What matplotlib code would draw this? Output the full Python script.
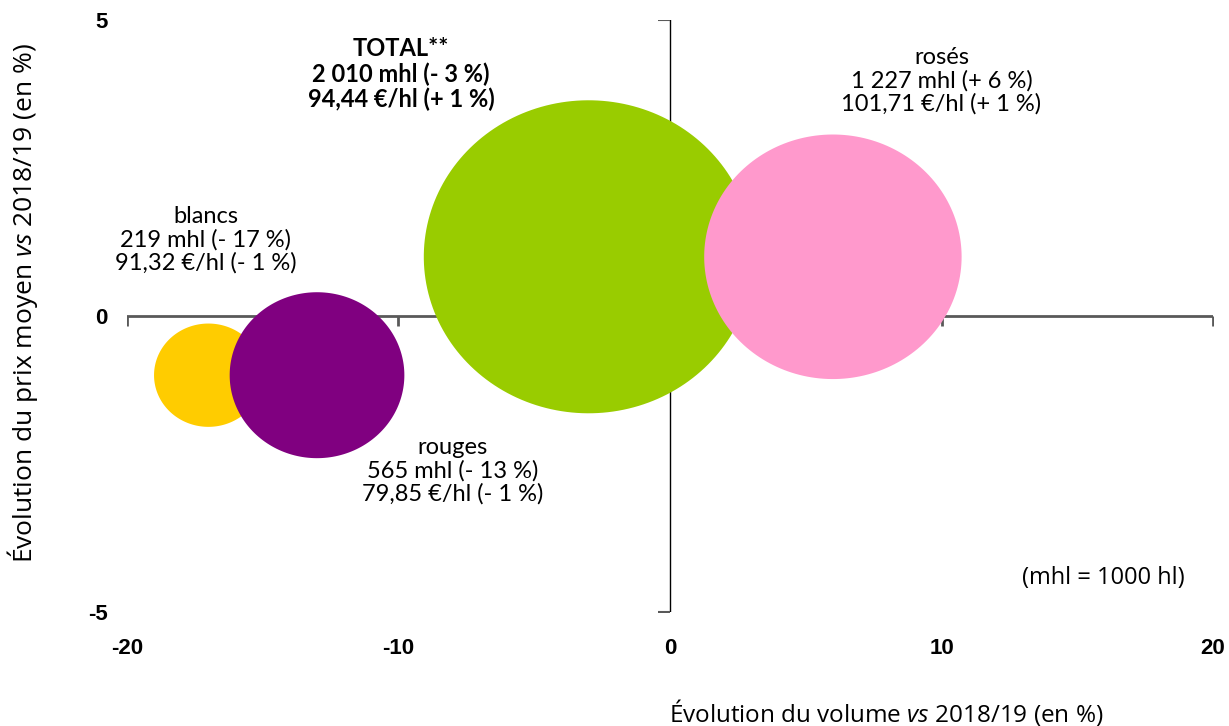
import matplotlib
matplotlib.use("Agg")
import matplotlib.pyplot as plt
import numpy as np
from matplotlib.path import Path

# data
categories = ["blancs", "rouges", "TOTAL**", "rosés"]
volume_change = [-17, -13, -3, 6]          # % vs 2018/19
price_change = [-1, -1, 1, 1]               # % vs 2018/19
volumes = [219, 565, 2010, 1227]            # mhl
colors = ["#FFCC00", "#800080", "#99CC00", "#FF99CC"]
labels = [
    "blancs\n219 mhl (- 17 %)\n91,32 €/hl (- 1 %)",
    "rouges\n565 mhl (- 13 %)\n79,85 €/hl (- 1 %)",
    "TOTAL**\n2 010 mhl (- 3 %)\n94,44 €/hl (+ 1 %)",
    "rosés\n1 227 mhl (+ 6 %)\n101,71 €/hl (+ 1 %)",
]
label_pos = [(-17.1, 1.28), (-8.0, -2.62), (-9.9, 4.08), (10.0, 3.97)]

x_ticks = [-20, -10, 0, 10, 20]
y_ticks = [-5, 0, 5]

plt.rcParams["mathtext.fontset"] = "custom"
plt.rcParams["mathtext.it"] = "Open Sans:italic"
plt.rcParams["mathtext.rm"] = "Open Sans"

# slightly flattened bubble marker (as in the original export)
t = np.linspace(0, 2 * np.pi, 200)
ellipse = Path(np.column_stack([np.cos(t), 0.95 * np.sin(t)]), closed=True)

fig = plt.figure(figsize=(12.29, 7.26), dpi=100)
ax = fig.add_axes([0.1033, 0.157, 0.8837, 0.8155])
ax.set_xlim(-20, 20)
ax.set_ylim(-5, 5)
for s in ax.spines.values():
    s.set_visible(False)

# axis lines crossing at 0
ax.plot([-20, 20], [0, 0], color="#595959", lw=2, zorder=1)
ax.plot([0, 0], [-5, 5], color="black", lw=1, zorder=1)
ax.plot(x_ticks, [0] * len(x_ticks), ls="none", marker=3, ms=7,
        mew=2, color="#595959", zorder=1)
ax.plot([0, 0], [-5, 5], ls="none", marker=0, ms=9, mew=1.5,
        color="#595959", zorder=1)

# bubbles, area proportional to volume
size_scale = 28.0
for x, y, v, c in zip(volume_change, price_change, volumes, colors):
    ax.scatter([x], [y], s=[v * size_scale], color=c, marker=ellipse,
               edgecolors="none", zorder=3)

for (tx, ty), lab, cat in zip(label_pos, labels, categories):
    ax.text(tx, ty, lab, ha="center", va="center", fontsize=17,
            family="Lato", linespacing=1.1,
            fontweight="bold" if cat.startswith("TOTAL") else "normal",
            zorder=5)

ax.text(15.95, -4.43, "(mhl = 1000 hl)", ha="center", va="center",
        fontsize=17, family="Open Sans")

ax.set_xticks(x_ticks)
ax.set_yticks(y_ticks)
ax.set_xticklabels([str(t) for t in x_ticks], fontweight="bold",
                   family="Liberation Sans", fontsize=16)
ax.set_yticklabels([str(t) for t in y_ticks], fontweight="bold",
                   family="Liberation Sans", fontsize=16)
ax.tick_params(axis="both", length=0)
ax.tick_params(axis="x", pad=19)
ax.tick_params(axis="y", pad=14)

fig.text(0.721, 0.019, r"Évolution du volume $\mathit{vs}$ 2018/19 (en %)",
         ha="center", va="center", fontsize=17.5, family="Open Sans")
fig.text(0.018, 0.583, r"Évolution du prix moyen $\mathit{vs}$ 2018/19 (en %)",
         ha="center", va="center", rotation=90, fontsize=19,
         family="Open Sans")

fig.savefig("out.png", dpi=100)
